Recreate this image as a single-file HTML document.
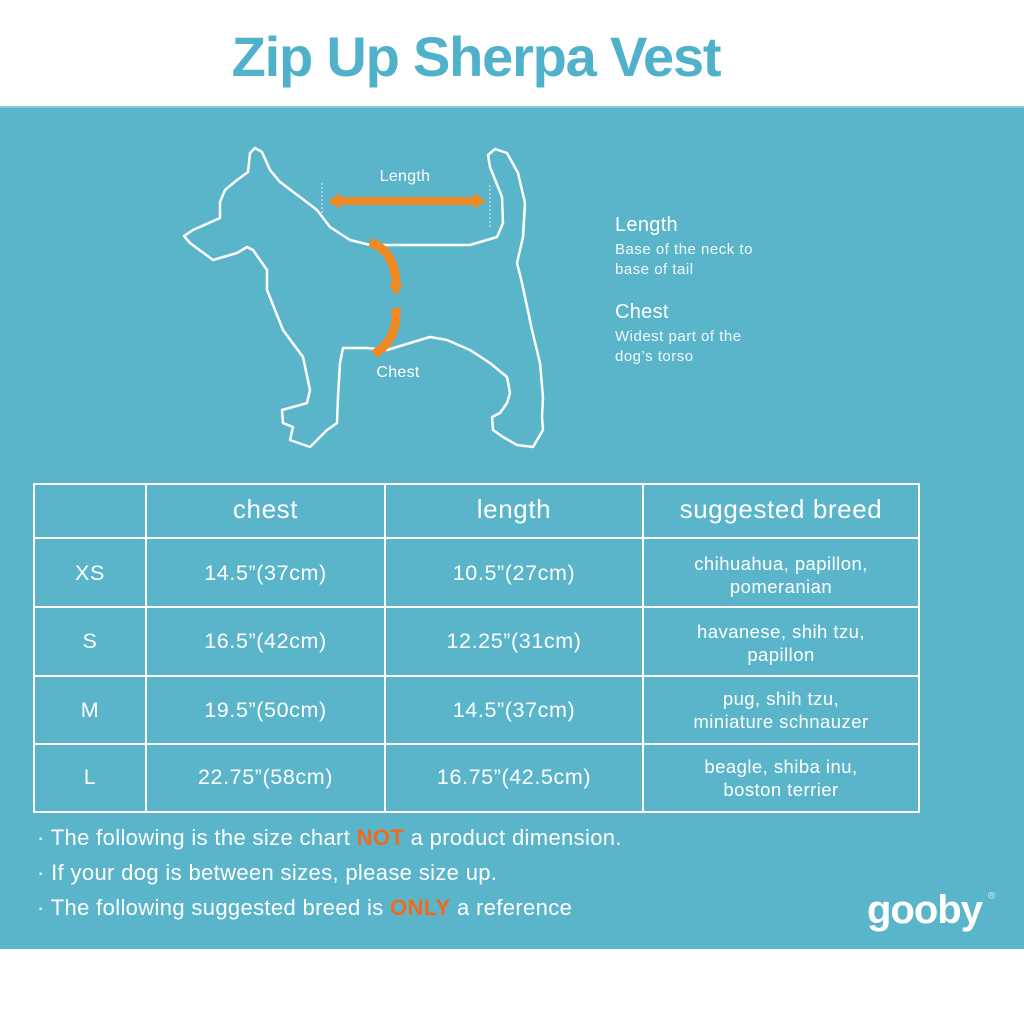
<!DOCTYPE html>
<html><head><meta charset="utf-8"><style>
*{margin:0;padding:0;box-sizing:border-box}
body{width:1024px;height:1024px;background:#fff;position:relative;overflow:hidden;font-family:"Liberation Sans",sans-serif;color:#fff}
.title{position:absolute;left:0;width:952px;top:22px;text-align:center;font-size:56px;font-weight:bold;letter-spacing:-1.2px;color:#4fb1ca;line-height:70px}
.panel{position:absolute;left:0;top:106px;width:1024px;height:843px;background:#5ab5cb;border-top:2px solid #7fc9da}
.t{position:absolute;white-space:nowrap}
.c{position:absolute;text-align:center;white-space:nowrap}
.hd{font-size:26px;letter-spacing:0.6px}
.cell{font-size:21.5px;letter-spacing:0.6px}
.br{font-size:18.5px;line-height:23px;letter-spacing:0.45px}
.bul{position:absolute;left:37px;font-size:22px;letter-spacing:0.35px;white-space:nowrap}
.o{color:#f2691d;font-weight:bold}
</style></head><body>
<div class="title">Zip Up Sherpa Vest</div>
<div class="panel"></div>
<svg style="position:absolute;left:0;top:0" width="1024" height="1024" viewBox="0 0 1024 1024">
<path d="M184,236 L193,230 L220,218 L220,202 L225,190 L237,180 L248,172 L250,153 L255,148 L262,152 L270,170 L280,182 L300,197 L317,210 L330,227 L350,240 L370,245 L470,245 L497,237 L503,223 L502,197 L490,167 L488,155 L495,149 L507,153 L518,173 L525,203 L523,237 L517,263 L522,283 L532,330 L540,363 L543,397 L542,417 L543,430 L533,447 L517,445 L503,437 L493,430 L492,417 L500,413 L507,403 L510,393 L507,377 L490,363 L470,350 L447,340 L430,337 L410,343 L387,350 L367,348 L343,348 L340,363 L338,397 L337,423 L327,430 L310,447 L290,440 L293,427 L283,423 L282,410 L293,407 L307,403 L310,390 L303,357 L283,330 L267,290 L267,270 L253,250 L247,247 L237,253 L213,260 L190,243 Z" fill="none" stroke="#fff" stroke-width="2.5" stroke-linejoin="round"/>
<line x1="322" y1="183" x2="322" y2="215" stroke="#fff" stroke-width="1" stroke-dasharray="2,2" opacity="0.8"/>
<line x1="490" y1="185" x2="490" y2="227" stroke="#fff" stroke-width="1" stroke-dasharray="2,2" opacity="0.8"/>
<line x1="336" y1="201" x2="477" y2="201" stroke="#f08a24" stroke-width="8"/>
<polygon points="328,201 340,193 340,209" fill="#f08a24"/>
<polygon points="486,201 474,193 474,209" fill="#f08a24"/>
<path d="M370,242 Q396,252 396,286" fill="none" stroke="#f08a24" stroke-width="9"/>
<polygon points="389,284 403,284 396,296" fill="#f08a24"/>
<path d="M396,308 Q398,340 374,354" fill="none" stroke="#f08a24" stroke-width="9"/>
<g stroke="#fff" stroke-width="2" fill="none">
<rect x="34" y="484" width="885" height="328"/>
<line x1="34" y1="538" x2="919" y2="538"/>
<line x1="34" y1="607" x2="919" y2="607"/>
<line x1="34" y1="676" x2="919" y2="676"/>
<line x1="34" y1="744" x2="919" y2="744"/>
<line x1="146" y1="484" x2="146" y2="812"/>
<line x1="385" y1="484" x2="385" y2="812"/>
<line x1="643" y1="484" x2="643" y2="812"/>
</g>
</svg>
<div class="c" style="left:345px;width:120px;top:168px;font-size:16px;letter-spacing:0.3px">Length</div>
<div class="c" style="left:338px;width:120px;top:364px;font-size:16px;letter-spacing:0.3px">Chest</div>
<div class="t" style="left:615px;top:214px;font-size:20px;letter-spacing:0.3px">Length</div>
<div class="t" style="left:615px;top:240px;font-size:15px;line-height:20px;letter-spacing:0.5px;opacity:.92">Base of the neck to<br>base of tail</div>
<div class="t" style="left:615px;top:301px;font-size:20px;letter-spacing:0.3px">Chest</div>
<div class="t" style="left:615px;top:327px;font-size:15px;line-height:20px;letter-spacing:0.5px;opacity:.92">Widest part of the<br>dog’s torso</div>

<div class="c hd" style="left:146px;width:239px;top:494px">chest</div>
<div class="c hd" style="left:385px;width:258px;top:494px">length</div>
<div class="c hd" style="left:643px;width:276px;top:494px">suggested breed</div>

<div class="c cell" style="left:34px;width:112px;top:561px">XS</div>
<div class="c cell" style="left:146px;width:239px;top:561px">14.5”(37cm)</div>
<div class="c cell" style="left:385px;width:258px;top:561px">10.5”(27cm)</div>
<div class="c br" style="left:643px;width:276px;top:552px">chihuahua, papillon,<br>pomeranian</div>

<div class="c cell" style="left:34px;width:112px;top:629px">S</div>
<div class="c cell" style="left:146px;width:239px;top:629px">16.5”(42cm)</div>
<div class="c cell" style="left:385px;width:258px;top:629px">12.25”(31cm)</div>
<div class="c br" style="left:643px;width:276px;top:620px">havanese, shih tzu,<br>papillon</div>

<div class="c cell" style="left:34px;width:112px;top:698px">M</div>
<div class="c cell" style="left:146px;width:239px;top:698px">19.5”(50cm)</div>
<div class="c cell" style="left:385px;width:258px;top:698px">14.5”(37cm)</div>
<div class="c br" style="left:643px;width:276px;top:687px">pug, shih tzu,<br>miniature schnauzer</div>

<div class="c cell" style="left:34px;width:112px;top:765px">L</div>
<div class="c cell" style="left:146px;width:239px;top:765px">22.75”(58cm)</div>
<div class="c cell" style="left:385px;width:258px;top:765px">16.75”(42.5cm)</div>
<div class="c br" style="left:643px;width:276px;top:755px">beagle, shiba inu,<br>boston terrier</div>

<div class="bul" style="top:825px">· The following is the size chart <span class="o">NOT</span> a product dimension.</div>
<div class="bul" style="top:860px">· If your dog is between sizes, please size up.</div>
<div class="bul" style="top:895px">· The following suggested breed is <span class="o">ONLY</span> a reference</div>

<div class="t" style="left:867px;top:888px;font-size:40px;font-weight:bold;letter-spacing:-1px">gooby</div>
<div class="t" style="left:988px;top:891px;font-size:10px;opacity:.8">®</div>
</body></html>
